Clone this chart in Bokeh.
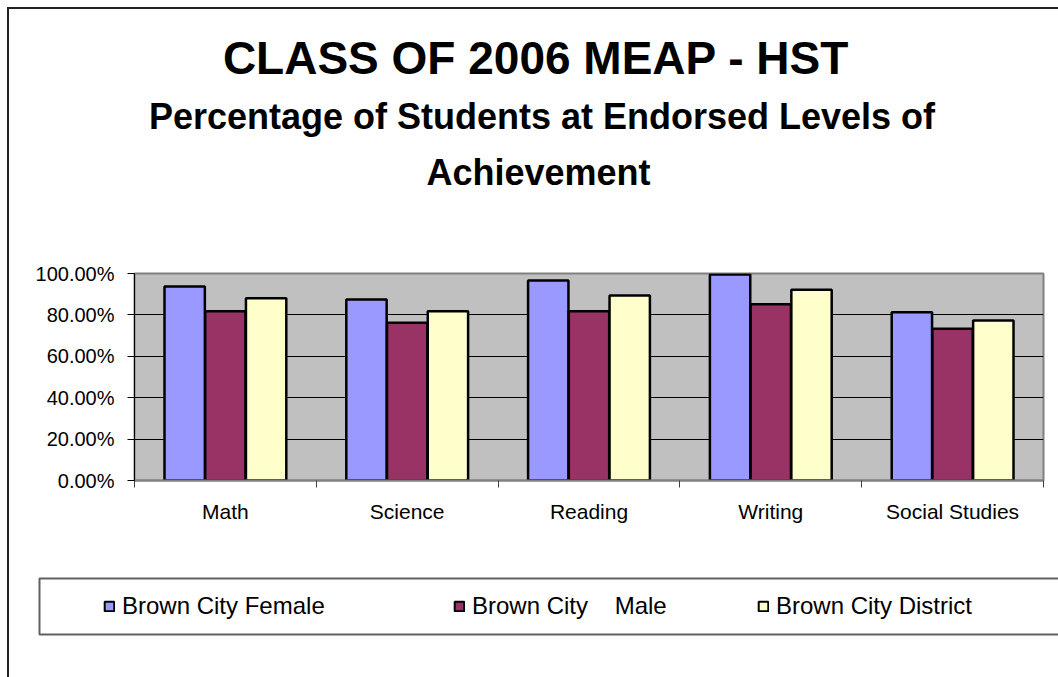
from bokeh.plotting import figure
from bokeh.layouts import column
from bokeh.models import (Range1d, FixedTicker, NumeralTickFormatter, Legend, LegendItem,
                          ColumnDataSource, Label, BoxAnnotation)
from bokeh.transform import dodge
from bokeh.embed import file_html
from bokeh.resources import INLINE

# ---------------- data ----------------
categories = ["Math", "Science", "Reading", "Writing", "Social Studies"]
series_names = ["Brown City Female", "Brown City    Male", "Brown City District"]
female = [0.937, 0.874, 0.966, 0.995, 0.813]
male = [0.818, 0.762, 0.818, 0.852, 0.733]
district = [0.881, 0.818, 0.894, 0.921, 0.773]
y_ticks = [0.0, 0.2, 0.4, 0.6, 0.8, 1.0]
title_text = "CLASS OF 2006 MEAP - HST"
subtitle_lines = ["Percentage of Students at Endorsed Levels of", "Achievement"]

# ---------------- layout ----------------
W = 1049                      # page x 9 .. 1058
H_TITLE, H_MAIN, H_LEG = 191, 360, 117
FL, FR, FT, FB = 125, 15, 73, 80
NC = len(categories)
FONT = "Liberation Sans"
colors = ["#9999FF", "#993366", "#FFFFCC"]
keys = ["female", "male", "district"]
offsets = [-0.224, 0.0, 0.224]
centers = [i + 0.5 for i in range(NC)]
source = ColumnDataSource(dict(x=centers, female=female, male=male, district=district))


def blank_fig(h):
    f = figure(width=W, height=h, x_range=Range1d(0, W), y_range=Range1d(h, 0),
               output_backend="svg", toolbar_location=None,
               x_axis_location=None, y_axis_location=None, frame_align=False,
               min_border_left=0, min_border_right=0, min_border_top=0, min_border_bottom=0)
    f.xgrid.visible = False
    f.ygrid.visible = False
    f.outline_line_color = None
    f.background_fill_color = "white"
    f.border_fill_color = "white"
    return f


# ---------------- title block ----------------
pt = blank_fig(H_TITLE)
pt.add_layout(Label(x=526.5, y=48, text=title_text, text_align="center",
                    text_baseline="alphabetic", text_font=FONT, text_font_size="46px",
                    text_font_style="bold", text_color="black"))
pt.add_layout(Label(x=532.5, y=107, text=subtitle_lines[0], text_align="center",
                    text_baseline="alphabetic", text_font=FONT, text_font_size="36px",
                    text_font_style="bold", text_color="black"))
pt.add_layout(Label(x=529, y=163, text=subtitle_lines[1], text_align="center",
                    text_baseline="alphabetic", text_font=FONT, text_font_size="36px",
                    text_font_style="bold", text_color="black"))

# ---------------- main chart ----------------
p = figure(width=W, height=H_MAIN, x_range=Range1d(0, NC), y_range=Range1d(0, 1),
           output_backend="svg", toolbar_location=None, frame_align=False,
           min_border_left=FL, min_border_right=FR, min_border_top=FT, min_border_bottom=FB)
p.background_fill_color = "#C0C0C0"
p.border_fill_color = "white"
p.outline_line_color = "#808080"
p.outline_line_width = 2

yax = p.yaxis[0]
yax.ticker = FixedTicker(ticks=y_ticks)
yax.formatter = NumeralTickFormatter(format="0.00%")
yax.major_label_text_font = FONT
yax.major_label_text_font_size = "20px"
yax.major_label_text_color = "black"
yax.major_tick_out = 7
yax.major_tick_in = 0
yax.minor_tick_line_color = None
yax.axis_line_color = "black"
yax.major_tick_line_color = "black"
yax.major_label_standoff = 13

p.ygrid.ticker = FixedTicker(ticks=y_ticks)
p.ygrid.grid_line_color = "black"
p.ygrid.grid_line_width = 1
p.xgrid.visible = False

xax = p.xaxis[0]
xax.ticker = FixedTicker(ticks=centers, minor_ticks=list(range(NC + 1)))
xax.major_label_overrides = {c: name for c, name in zip(centers, categories)}
xax.major_tick_line_color = None
xax.major_tick_out = 0
xax.major_tick_in = 0
xax.minor_tick_out = 7
xax.minor_tick_in = 0
xax.minor_tick_line_color = "#404040"
xax.axis_line_color = "#808080"
xax.axis_line_width = 2
xax.major_label_standoff = 12
xax.major_label_text_font = FONT
xax.major_label_text_font_size = "21px"
xax.major_label_text_color = "black"

for k, c, o in zip(keys, colors, offsets):
    p.vbar(x=dodge("x", o), top=k, width=0.222, source=source,
           fill_color=c, line_color="black", line_width=2.5)

# ---------------- legend block ----------------
pl = blank_fig(H_LEG)
pl.add_layout(BoxAnnotation(left=30, right=W + 50, top=18, bottom=74, fill_alpha=0,
                            line_color="#606060", line_alpha=1, line_width=2))
legend_x = [94, 444, 748]
for k, c, name, lx in zip(keys, colors, series_names, legend_x):
    r = pl.vbar(x="x", top=k, width=0.2, source=source, fill_color=c,
                line_color="black", line_width=2, visible=False)
    leg = Legend(items=[LegendItem(label=name, renderers=[r])], location=(lx, 56),
                 orientation="horizontal", padding=0, margin=0, border_line_color=None,
                 background_fill_alpha=0, inactive_fill_alpha=0,
                 glyph_width=12, glyph_height=12, label_standoff=7, label_height=30,
                 spacing=0, label_text_font=FONT, label_text_font_size="24px",
                 label_text_color="black")
    pl.add_layout(leg, "center")

layout = column(pt, p, pl, spacing=0)
layout.styles = {"margin-left": "7px", "margin-top": "7px",
                 "border-left": "2px solid #222222", "border-top": "2px solid #222222"}

open("out.html", "w").write(file_html(layout, INLINE))
